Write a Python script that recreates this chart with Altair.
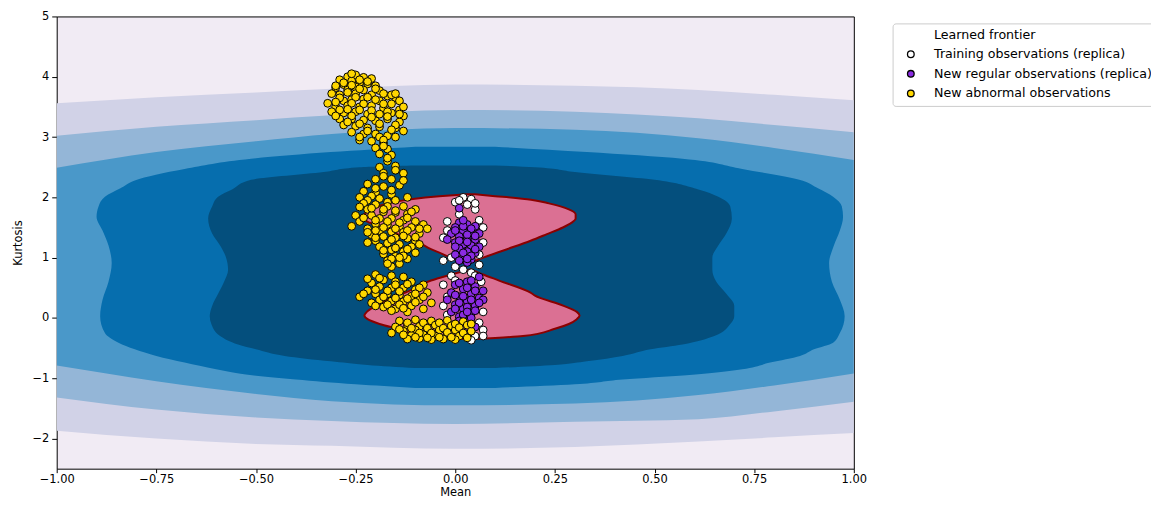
import altair as alt
import pandas as pd

# ---------------- contour bands ----------------
band_x = [-1.0, -0.75, -0.5, -0.31, 0.0, 0.3, 0.61, 0.8, 1.0]
lav_top = [3.56, 3.66, 3.74, 3.80, 3.87, 3.85, 3.78, 3.70, 3.61]
lav_bot = [-1.87, -2.00, -2.09, -2.12, -2.17, -2.14, -2.05, -1.98, -1.91]
lb_top = [3.02, 3.17, 3.28, 3.36, 3.45, 3.42, 3.31, 3.20, 3.08]
lb_bot = [-1.32, -1.52, -1.65, -1.71, -1.76, -1.72, -1.68, -1.55, -1.39]
med_top = [2.49, 2.75, 2.93, 3.05, 3.15, 3.12, 2.98, 2.82, 2.62]
med_bot = [-0.79, -1.05, -1.26, -1.38, -1.45, -1.42, -1.28, -1.12, -0.92]

blue_y = [-1.16, -1.10, -1.02, -0.95, -0.85, -0.74, -0.63, -0.52, -0.41, -0.25, 0.03, 0.30,
          0.60, 0.91, 1.20, 1.45, 1.68, 1.85, 2.01, 2.15, 2.28, 2.47, 2.64, 2.75, 2.84]
blue_xl = [-0.10, -0.25, -0.40, -0.51, -0.60, -0.679, -0.75, -0.804, -0.845, -0.879, -0.891, -0.885,
           -0.87, -0.862, -0.87, -0.885, -0.90, -0.895, -0.879, -0.84, -0.804, -0.679, -0.512, -0.312, -0.10]
blue_xr = [0.10, 0.30, 0.42, 0.58, 0.72, 0.79, 0.865, 0.90, 0.948, 0.965, 0.977, 0.965,
           0.945, 0.938, 0.95, 0.965, 0.973, 0.97, 0.948, 0.91, 0.87, 0.72, 0.57, 0.33, 0.10]

dark_y = [-0.83, -0.78, -0.72, -0.63, -0.52, -0.44, -0.30, -0.10, 0.03, 0.20, 0.40, 0.60,
          0.80, 1.00, 1.20, 1.40, 1.65, 1.85, 2.01, 2.13, 2.29, 2.42, 2.50, 2.53]
dark_xl = [-0.10, -0.22, -0.312, -0.428, -0.50, -0.545, -0.59, -0.612, -0.616, -0.61, -0.595, -0.58,
           -0.57, -0.575, -0.59, -0.61, -0.62, -0.61, -0.595, -0.56, -0.512, -0.33, -0.24, -0.10]
dark_xr = [0.10, 0.25, 0.33, 0.42, 0.49, 0.57, 0.65, 0.69, 0.70, 0.70, 0.68, 0.655,
           0.645, 0.645, 0.66, 0.68, 0.694, 0.69, 0.66, 0.61, 0.50, 0.30, 0.20, 0.10]

# ---------------- learned frontier (two lobes) ----------------
up_y = [0.89, 1.00, 1.14, 1.28, 1.39, 1.50, 1.58, 1.65, 1.72, 1.80, 1.90, 1.96, 2.02, 2.05]
up_xl = [0.03, -0.01, -0.061, -0.10, -0.145, -0.185, -0.215, -0.23, -0.228, -0.21, -0.17, -0.12, -0.04, 0.03]
up_xr = [0.03, 0.07, 0.13, 0.189, 0.23, 0.27, 0.292, 0.302, 0.302, 0.285, 0.235, 0.19, 0.10, 0.05]

lo_y = [-0.35, -0.30, -0.18, -0.10, -0.02, 0.04, 0.10, 0.20, 0.37, 0.42, 0.62, 0.72, 0.81]
lo_xl = [0.00, -0.08, -0.145, -0.19, -0.22, -0.228, -0.222, -0.20, -0.145, -0.125, -0.061, -0.01, 0.039]
lo_xr = [0.05, 0.17, 0.25, 0.285, 0.305, 0.312, 0.305, 0.272, 0.20, 0.189, 0.11, 0.07, 0.039]

# ---------------- observations ----------------
white_x = [0.02, 0.04, 0.00, 0.03, 0.05, 0.01, -0.02, 0.06, -0.03, 0.07, -0.01, 0.06, 0.02,
           0.04, -0.01, 0.00, -0.03, 0.07, -0.03, 0.06, 0.07, 0.05, 0.04, -0.02, 0.065,
           0.01, 0.05, -0.02, 0.07, 0.06, -0.03, 0.00, 0.05, -0.02, 0.07]
white_y = [2.00, 1.97, 1.92, 1.88, 1.80, 1.72, 1.60, 1.62, 1.33, 1.25, 1.00, 0.88, 0.80,
           0.75, 0.70, 0.62, 0.55, 0.10, 0.20, -0.08, -0.20, -0.30, -0.37, 0.05, 0.60,
           1.95, 1.90, 1.45, 1.50, 1.05, 0.95, 0.85, 0.70, 0.35, -0.30]

purple_x = [0.01, 0.03, 0.05, 0.00, 0.02, 0.04, 0.06, -0.01, 0.01, 0.03, 0.05, -0.02, 0.00,
            0.02, 0.04, 0.06, 0.01, 0.03, 0.05, 0.00, 0.02, 0.04, 0.03, 0.01,
            0.06, 0.03, 0.00, 0.05, 0.02, 0.07, -0.01, 0.04, 0.01, 0.06, -0.02, 0.03, 0.00,
            0.05, 0.02, -0.01, 0.04, 0.01, 0.03, 0.00, 0.05, 0.02, 0.07, 0.03,
            0.02, 0.04, 0.00, 0.03, 0.05, 0.01, 0.03, 0.05, 0.00, 0.02, 0.04, 0.01, 0.03, 0.02,
            0.04, 0.01, 0.03, 0.05, 0.00, 0.02, 0.04, 0.06, 0.01, 0.03, 0.05, 0.00, 0.02, 0.04,
            0.01, 0.03]
purple_y = [1.58, 1.55, 1.52, 1.50, 1.45, 1.44, 1.40, 1.40, 1.35, 1.33, 1.30, 1.30, 1.25,
            1.22, 1.20, 1.18, 1.15, 1.10, 1.08, 1.05, 1.00, 0.97, 0.92, 1.82,
            0.68, 0.60, 0.55, 0.52, 0.48, 0.45, 0.42, 0.40, 0.35, 0.33, 0.30, 0.28, 0.22,
            0.20, 0.15, 0.10, 0.08, 0.02, -0.05, -0.10, -0.15, 0.00, 0.30, -0.22,
            1.52, 1.48, 1.45, 1.38, 1.36, 1.28, 1.26, 1.14, 1.18, 1.08, 1.03, 0.95, 0.98, 1.62,
            0.62, 0.58, 0.50, 0.45, 0.38, 0.36, 0.30, 0.25, 0.25, 0.18, 0.12, 0.15, 0.05, 0.00,
            -0.05, 0.10]

gold_x = [
    # top blob
    -0.25, -0.27, -0.23, -0.21, -0.29, -0.26, -0.24, -0.22, -0.28, -0.30, -0.20, -0.25, -0.27,
    -0.23, -0.19, -0.31, -0.29, -0.25, -0.21, -0.17, -0.15, -0.14, -0.32, -0.28, -0.26, -0.23,
    -0.19, -0.16, -0.30, -0.27, -0.24, -0.21, -0.18, -0.14, -0.31, -0.28, -0.25, -0.22, -0.19,
    -0.16, -0.13, -0.29, -0.26, -0.23, -0.20, -0.17, -0.14, -0.28, -0.25, -0.22, -0.19, -0.15,
    -0.13, -0.26, -0.23, -0.20, -0.17, -0.15, -0.24, -0.21, -0.18, -0.20, -0.17,
    -0.26, -0.24, -0.22, -0.28, -0.30, -0.26, -0.24, -0.20, -0.18, -0.27, -0.22, -0.16, -0.29,
    -0.25, -0.20, -0.15, -0.30, -0.26, -0.23, -0.18, -0.13, -0.29, -0.27, -0.24, -0.21, -0.17,
    -0.14, -0.30, -0.26, -0.21, -0.17, -0.15, -0.27, -0.24, -0.19, -0.16, -0.22, -0.19, -0.24,
    -0.18,
    # neck
    -0.19, -0.16, -0.17, -0.19, -0.15, -0.13, -0.18, -0.20, -0.16, -0.22, -0.18, -0.14, -0.23,
    -0.20, -0.16, -0.24, -0.19, -0.15, -0.12,
    -0.18, -0.17, -0.15, -0.18, -0.16, -0.20, -0.21, -0.17, -0.13, -0.22,
    # middle blob
    -0.23, -0.20, -0.17, -0.13, -0.10, -0.22, -0.18, -0.15, -0.12, -0.25, -0.21, -0.19, -0.16,
    -0.13, -0.10, -0.08, -0.24, -0.20, -0.17, -0.14, -0.11, -0.26, -0.22, -0.19, -0.16, -0.13,
    -0.09, -0.21, -0.18, -0.15, -0.12, -0.10, -0.20, -0.17, -0.14, -0.11, -0.19, -0.16, -0.13,
    -0.10, -0.18, -0.15, -0.12, -0.17, -0.14, -0.16,
    -0.24, -0.21, -0.18, -0.15, -0.11, -0.23, -0.20, -0.17, -0.14, -0.12, -0.09, -0.22, -0.18,
    -0.15, -0.12, -0.20, -0.16, -0.13, -0.10, -0.18, -0.15, -0.12, -0.16, -0.13, -0.20, -0.22,
    -0.09, -0.07, -0.17, -0.14,
    # lower-middle blob
    -0.20, -0.16, -0.13, -0.18, -0.15, -0.11, -0.21, -0.08, -0.19, -0.16, -0.13, -0.10, -0.22,
    -0.07, -0.20, -0.17, -0.14, -0.11, -0.24, -0.09, -0.19, -0.16, -0.13, -0.06, -0.21, -0.11,
    -0.18, -0.15, -0.08, -0.12,
    -0.22, -0.19, -0.15, -0.12, -0.09, -0.20, -0.17, -0.14, -0.10, -0.23, -0.18, -0.15, -0.12,
    -0.08, -0.20, -0.17, -0.14, -0.10, -0.16, -0.13,
    # bottom blob
    -0.14, -0.10, -0.06, -0.02, 0.02, -0.15, -0.12, -0.09, -0.05, -0.01, 0.03, -0.13, -0.10,
    -0.07, -0.04, 0.00, 0.04, -0.11, -0.08, -0.05, -0.02, 0.01, -0.12, -0.09, -0.06, -0.03,
    0.00, -0.16,
    -0.12, -0.08, -0.04, 0.00, 0.04, -0.14, -0.11, -0.07, -0.03, 0.01, -0.13, -0.09, -0.06,
    -0.02, 0.02, -0.10, -0.07, -0.04, -0.01, 0.03,
]
gold_y = [
    4.03, 4.00, 3.99, 3.97, 3.95, 3.93, 3.90, 3.88, 3.87, 3.82, 3.85, 3.83, 3.78,
    3.78, 3.77, 3.72, 3.70, 3.72, 3.70, 3.68, 3.65, 3.60, 3.56, 3.60, 3.62, 3.63,
    3.60, 3.55, 3.50, 3.52, 3.50, 3.52, 3.48, 3.45, 3.42, 3.40, 3.42, 3.38, 3.38,
    3.40, 3.35, 3.30, 3.30, 3.28, 3.27, 3.30, 3.25, 3.20, 3.18, 3.15, 3.17, 3.15,
    3.10, 3.08, 3.05, 3.05, 3.02, 3.00, 2.95, 2.93, 2.90, 2.82, 2.80,
    4.05, 3.95, 3.92, 3.90, 3.85, 3.86, 3.80, 3.80, 3.72, 3.74, 3.66, 3.70, 3.65,
    3.66, 3.62, 3.72, 3.58, 3.56, 3.55, 3.55, 3.50, 3.45, 3.46, 3.45, 3.44, 3.42,
    3.38, 3.35, 3.35, 3.33, 3.34, 3.20, 3.25, 3.22, 3.22, 3.12, 3.10, 3.00, 3.00,
    2.95,
    2.72, 2.70, 2.60, 2.50, 2.52, 2.40, 2.40, 2.30, 2.30, 2.22, 2.18, 2.20, 2.10,
    2.08, 2.05, 2.00, 1.98, 1.95, 2.00,
    2.85, 2.65, 2.45, 2.35, 2.12, 2.15, 2.02, 1.92, 2.28, 1.95,
    1.90, 1.88, 1.85, 1.85, 1.80, 1.80, 1.76, 1.75, 1.72, 1.70, 1.70, 1.65, 1.65,
    1.62, 1.60, 1.55, 1.60, 1.56, 1.55, 1.52, 1.50, 1.52, 1.48, 1.45, 1.43, 1.42,
    1.40, 1.38, 1.35, 1.33, 1.32, 1.28, 1.28, 1.24, 1.22, 1.18, 1.18, 1.13, 1.10,
    1.08, 1.06, 1.02, 0.98, 0.95, 0.90, 0.85,
    1.84, 1.82, 1.80, 1.78, 1.76, 1.66, 1.62, 1.60, 1.58, 1.66, 1.48, 1.42, 1.50,
    1.48, 1.45, 1.33, 1.30, 1.36, 1.34, 1.12, 1.16, 1.14, 0.98, 1.03, 1.45, 1.25,
    1.22, 1.48, 0.90, 1.00,
    0.72, 0.70, 0.68, 0.63, 0.60, 0.60, 0.58, 0.55, 0.52, 0.50, 0.50, 0.47, 0.45,
    0.42, 0.40, 0.40, 0.38, 0.36, 0.35, 0.30, 0.30, 0.28, 0.27, 0.25, 0.25, 0.20,
    0.18, 0.15, 0.15, 0.10,
    0.65, 0.66, 0.55, 0.56, 0.50, 0.47, 0.45, 0.44, 0.40, 0.40, 0.35, 0.33, 0.32,
    0.35, 0.20, 0.22, 0.22, 0.26, 0.12, 0.16,
    -0.05, -0.03, -0.05, -0.04, -0.06, -0.15, -0.12, -0.14, -0.12, -0.13, -0.12, -0.22, -0.20,
    -0.22, -0.20, -0.20, -0.22, -0.29, -0.28, -0.30, -0.28, -0.30, -0.35, -0.34, -0.36, -0.35,
    -0.36, -0.25,
    -0.08, -0.08, -0.08, -0.10, -0.10, -0.19, -0.17, -0.17, -0.17, -0.16, -0.28, -0.25, -0.25,
    -0.24, -0.25, -0.32, -0.33, -0.32, -0.32, -0.33,
]

legend_labels = ["Learned frontier", "Training observations (replica)",
                 "New regular observations (replica)", "New abnormal observations"]
legend_fills = ["transparent", "white", "blueviolet", "gold"]
legend_strokes = ["transparent", "black", "black", "black"]

c_bg = "#f1ebf4"
c_lav = "#d1d2e7"
c_lb = "#94b6d7"
c_med = "#4a98c9"
c_blue = "#066eae"
c_dark = "#044f7d"

# ---------------- chart ----------------
xscale = alt.Scale(domain=[-1, 1], nice=False, zero=False)
yscale = alt.Scale(domain=[-2.5, 5], nice=False, zero=False)
xaxis = alt.Axis(title="Mean", values=[-1, -0.75, -0.5, -0.25, 0, 0.25, 0.5, 0.75, 1],
                 format=".2f", grid=False, labelFlush=False)
yaxis = alt.Axis(title="Kurtosis", values=[-2, -1, 0, 1, 2, 3, 4, 5], format="d", grid=False,
                 labelFlush=False)


def vband(top, bot, color):
    df = pd.DataFrame({"x": band_x, "top": top, "bot": bot})
    return alt.Chart(df).mark_area(color=color, interpolate="monotone", clip=True).encode(
        x=alt.X("x:Q", scale=xscale, axis=xaxis),
        y=alt.Y("top:Q", scale=yscale, axis=yaxis),
        y2="bot:Q",
    )


def hshape(ys, xl, xr, color, stroke=None):
    df = pd.DataFrame({"y": ys, "xl": xl, "xr": xr})
    kw = dict(color=color, orient="horizontal", interpolate="monotone", clip=True)
    if stroke:
        kw.update(stroke=stroke, strokeWidth=2)
    return alt.Chart(df).mark_area(**kw).encode(
        y=alt.Y("y:Q", scale=yscale, axis=yaxis),
        x=alt.X("xl:Q", scale=xscale, axis=xaxis),
        x2="xr:Q",
    )


pts = pd.concat([
    pd.DataFrame({"x": white_x, "y": white_y, "series": legend_labels[1]}),
    pd.DataFrame({"x": purple_x, "y": purple_y, "series": legend_labels[2]}),
    pd.DataFrame({"x": gold_x, "y": gold_y, "series": legend_labels[3]}),
], ignore_index=True)

leg = alt.Legend(title=None, orient="none", legendX=841, legendY=7, padding=5,
                 strokeColor="#cccccc", fillColor="white", cornerRadius=3,
                 labelFont="DejaVu Sans", labelFontSize=12.7, labelColor="black",
                 symbolType="circle", symbolSize=45, symbolStrokeWidth=1.3,
                 symbolOffset=7, labelOffset=17, rowPadding=5.7, labelLimit=400)

scatter = alt.Chart(pts).mark_circle(size=62, opacity=1, strokeWidth=1).encode(
    x=alt.X("x:Q", scale=xscale, axis=xaxis),
    y=alt.Y("y:Q", scale=yscale, axis=yaxis),
    fill=alt.Fill("series:N", scale=alt.Scale(domain=legend_labels, range=legend_fills), legend=leg),
    stroke=alt.Stroke("series:N", scale=alt.Scale(domain=legend_labels, range=legend_strokes), legend=leg),
)

chart = alt.layer(
    vband(lav_top, lav_bot, c_lav),
    vband(lb_top, lb_bot, c_lb),
    vband(med_top, med_bot, c_med),
    hshape(blue_y, blue_xl, blue_xr, c_blue),
    hshape(dark_y, dark_xl, dark_xr, c_dark),
    hshape(up_y, up_xl, up_xr, "#db7093", "#8b0000"),
    hshape(lo_y, lo_xl, lo_xr, "#db7093", "#8b0000"),
    scatter,
).properties(
    width=802, height=455,
    autosize=alt.AutoSizeParams(type="none"),
    padding={"left": 49, "top": 7, "right": 299, "bottom": 29},
).configure_view(
    fill=c_bg, stroke="black", strokeWidth=1,
).configure_axis(
    domain=False, tickColor="black", tickWidth=1,
    labelFont="DejaVu Sans", labelFontSize=11.5, labelColor="black",
    titleFont="DejaVu Sans", titleFontSize=11.5, titleFontWeight="normal", titleColor="black",
).configure_axisX(
    tickSize=4, labelPadding=1, titlePadding=1,
).configure_axisY(
    tickSize=5, labelPadding=3, titlePadding=8,
)

chart.save("out.html", embed_options={"renderer": "svg", "actions": False})
